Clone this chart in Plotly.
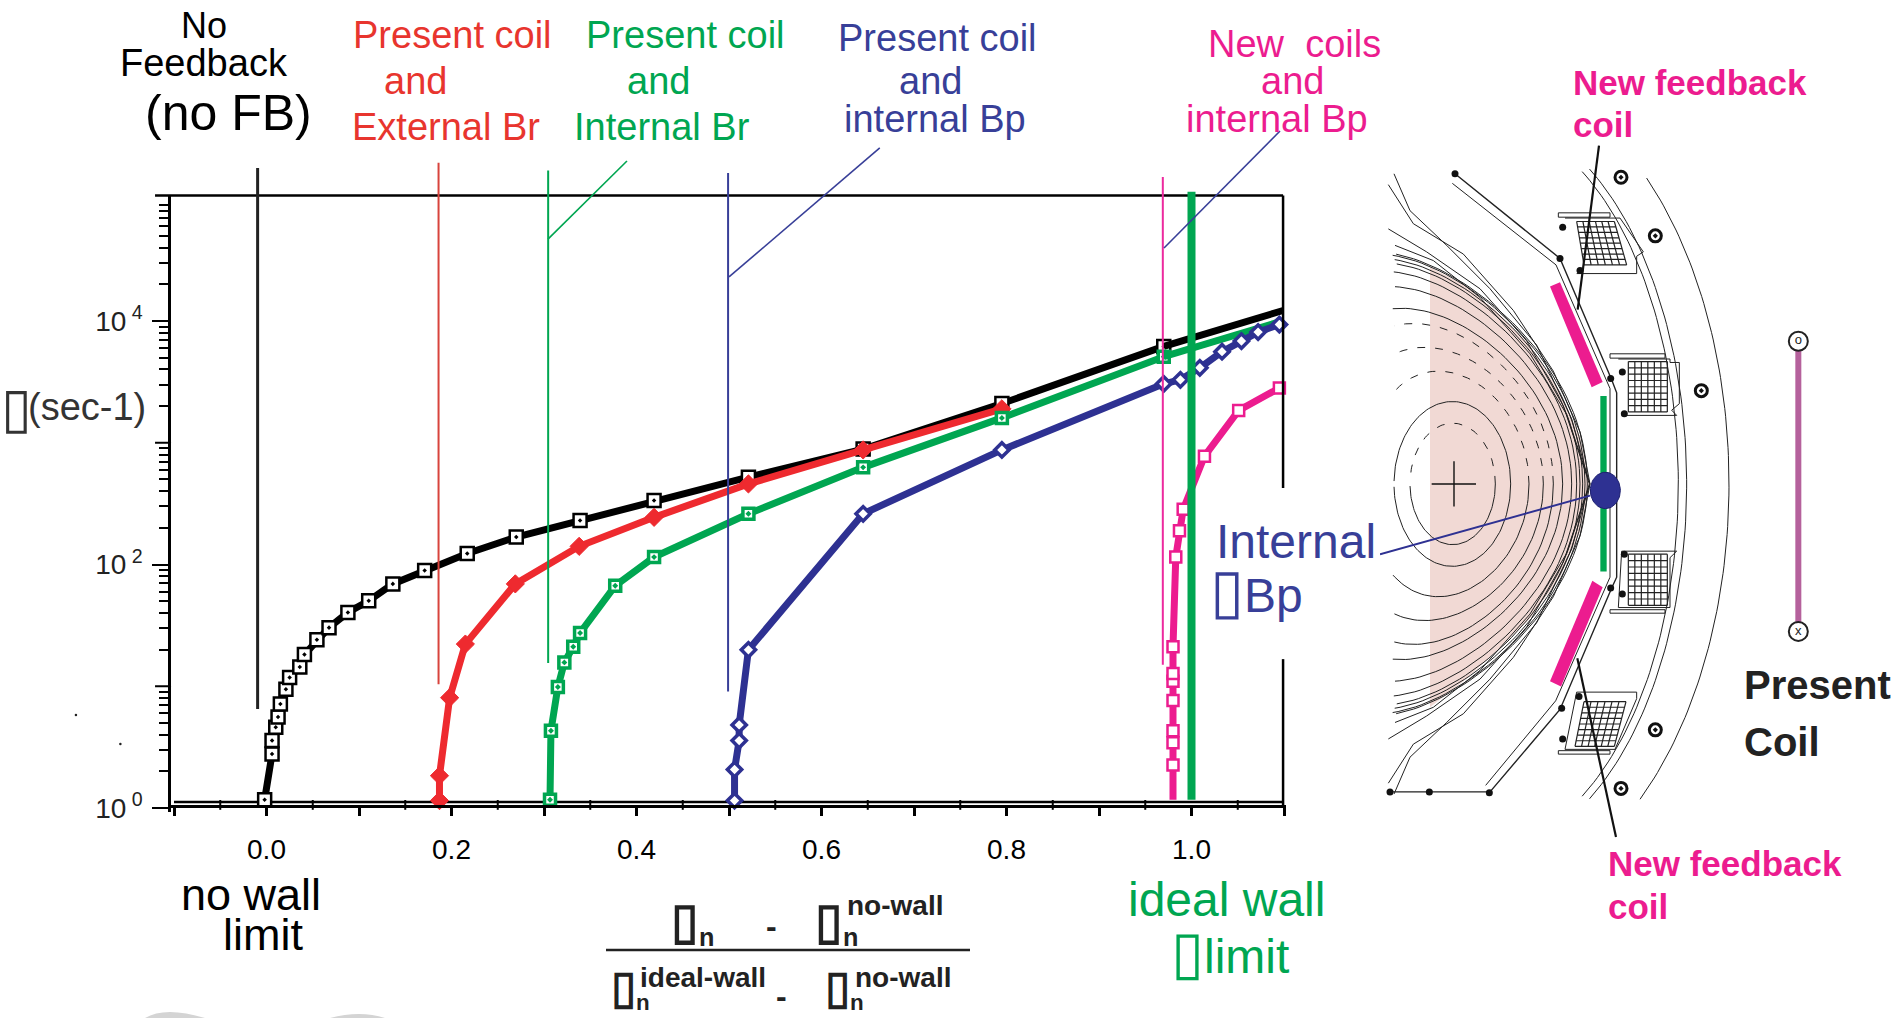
import numpy as np
import plotly.graph_objects as go

W, H = 1901, 1018

# ---------- data ----------
black_x = [-0.002, 0.006, 0.006, 0.010, 0.0125, 0.015, 0.021, 0.025, 0.036, 0.041, 0.0545, 0.0676, 0.088, 0.1105, 0.1366, 0.171, 0.217, 0.270, 0.339, 0.419, 0.521, 0.645, 0.795, 0.970, 1.099]
black_y = [1.17, 2.78, 3.58, 4.61, 5.60, 7.15, 9.45, 11.8, 14.4, 18.2, 24.1, 30.3, 40.4, 50.3, 69.3, 89.3, 123, 168, 230, 336, 521, 887, 2100, 6190, 12200]
red_x = [0.187, 0.187, 0.198, 0.215, 0.269, 0.338, 0.419, 0.521, 0.645, 0.795]
red_y = [1.15, 1.84, 8.05, 22.2, 69.3, 141, 244, 459, 873, 1900]
green_x = [0.3065, 0.3075, 0.315, 0.322, 0.3316, 0.339, 0.377, 0.419, 0.521, 0.645, 0.795, 0.970, 1.095]
green_y = [1.17, 4.31, 9.86, 15.7, 21.1, 27.4, 67, 115, 261, 628, 1600, 5090, 9850]
blue_x = [0.506, 0.506, 0.511, 0.511, 0.521, 0.645, 0.795, 0.970, 0.988, 1.009, 1.033, 1.054, 1.072, 1.095]
blue_y = [1.15, 2.07, 3.58, 4.81, 19.9, 261, 873, 3050, 3290, 4130, 5600, 6850, 8110, 9360]
pink_x = [0.980, 0.980, 0.980, 0.980, 0.980, 0.980, 0.980, 0.980, 0.983, 0.987, 0.991, 1.014, 1.051, 1.095]
pink_y = [1.17, 2.25, 3.43, 4.31, 7.65, 11.0, 12.7, 21.1, 115, 189, 284, 776, 1840, 2820]

# reference verticals: x, y-bottom, y-top
no_fb_line = (-0.0096, 6.5, 181000)
ext_br_line = (0.186, 10.4, 199000)
int_br_line = (0.3045, 15.5, 172000)
int_bp_line = (0.499, 9.06, 164000)
new_coil_line = (0.969, 15, 152000)
ideal_wall_line = (1.0, 1.17, 115000)
leader_green = ([0.3043, 0.3897], [47100, 206000])
leader_blue = ([0.5, 0.663], [23000, 264000])
leader_pink = ([0.9703, 1.0957], [39800, 364000])
specks_x = [-0.206, -0.158]
specks_y = [5.8, 3.36]

x_ticks = [0.0, 0.2, 0.4, 0.6, 0.8, 1.0]
x_labels = ["0.0", "0.2", "0.4", "0.6", "0.8", "1.0"]
x_unlabelled = [-0.1, 0.1, 0.3, 0.5, 0.7, 0.9, 1.1]
x_small = [-0.05, 0.05, 0.15, 0.25, 0.35, 0.45, 0.55, 0.65, 0.75, 0.85, 0.95, 1.05]
y_ticks = [1, 100, 10000]
y_labels = ["10<sup> 0</sup>", "10<sup> 2</sup>", "10<sup> 4</sup>"]
y_unlabelled = [10, 1000]
y_minor = [m * d for d in (1, 10, 100, 1000, 10000) for m in range(2, 10)]

# ---------- colours ----------
BLACK, RED, GREEN, NAVY, PINK = "#000000", "#ee2a2f", "#00a651", "#2e3192", "#ec1c8f"
NAVYTXT = "#383f98"
FONT = "Liberation Sans"


def px_x(p):
    return p / W


def px_y(p):
    return 1 - p / H


def box(size):
    return f"<span style='font-size:{size}px'>▯</span>"


fig = go.Figure()
O = dict(xa="x3", ya="y3")  # overlay axes with the same scale as the plot, lines may leave the frame


def line(x, y, color, width, xa="x", ya="y", dash=None, fill=None, fillcolor=None):
    fig.add_trace(go.Scatter(x=x, y=y, mode="lines", xaxis=xa, yaxis=ya, cliponaxis=False,
                             line=dict(color=color, width=width, dash=dash), fill=fill,
                             fillcolor=fillcolor, hoverinfo="skip", showlegend=False))


def series(x, y, color, symbol, size, lw, fillc="white", mstart=0):
    line(x, y, color, 7)
    fig.add_trace(go.Scatter(x=x[mstart:], y=y[mstart:], mode="markers", cliponaxis=False,
                             marker=dict(symbol=symbol, size=size, color=fillc,
                                         line=dict(color=color, width=lw)),
                             hoverinfo="skip", showlegend=False))


line([-0.1, 1.1], [1.12, 1.12], BLACK, 2.5)
fig.add_trace(go.Scatter(x=x_small, y=[1.06] * len(x_small), mode="markers", cliponaxis=False,
                         marker=dict(symbol="line-ns", size=7, line=dict(color=BLACK, width=2)),
                         hoverinfo="skip", showlegend=False))

series(black_x[:-1], black_y[:-1], BLACK, "square-dot", 13, 2.5)
line(black_x[-2:], black_y[-2:], BLACK, 7)
series(red_x, red_y, RED, "diamond", 14, 1, fillc=RED)
series(green_x[:-1], green_y[:-1], GREEN, "square-dot", 11, 3.5)
line(green_x[-2:], green_y[-2:], GREEN, 7)
series(blue_x, blue_y, NAVY, "diamond", 11, 3.5)
series(pink_x, pink_y, PINK, "square", 11, 2.5, mstart=1)

# frame pieces the axes cannot draw, marker lines and leaders
line([-0.1205, 1.099], [107400, 107400], BLACK, 2.5, **O)
line([1.099, 1.099, None, 1.099, 1.099], [107400, 425, None, 16.7, 1.02], BLACK, 2.5, **O)
for v in y_unlabelled:
    line([-0.1205, -0.1032], [v, v], BLACK, 2, **O)
for (xv, y0, y1), c, w in [(no_fb_line, "#222222", 3), (ext_br_line, "#d8433c", 2),
                           (int_br_line, GREEN, 2), (int_bp_line, NAVYTXT, 2),
                           (new_coil_line, "#ec2a9e", 2), (ideal_wall_line, GREEN, 8)]:
    line([xv, xv], [y0, y1], c, w, **O)
line(*leader_green, GREEN, 1.6, **O)
line(*leader_blue, NAVYTXT, 1.6, **O)
line(*leader_pink, NAVYTXT, 1.6, **O)
fig.add_trace(go.Scatter(x=specks_x, y=specks_y, mode="markers", xaxis="x3", yaxis="y3", cliponaxis=False,
                         marker=dict(size=2.5, color="#222222"), hoverinfo="skip", showlegend=False))

# ---------- machine cross-section (own axes, x2 / y2) ----------
S = dict(xa="x2", ya="y2")


def d_curve(R, a, b, delta, t0, t1, zc=770, n=90):
    t = np.radians(np.linspace(t0, t1, n))
    x = R + a * np.cos(t + delta * np.sin(t))
    y = zc - b * np.sin(t)
    x = np.where(x < 35, np.nan, x)
    return x, y


plasma_x = [150, 250, 350, 450, 540, 600, 628, 600, 540, 450, 350, 250, 150, 150]
plasma_y = [270, 310, 372, 450, 560, 660, 770, 880, 985, 1080, 1155, 1225, 1285, 270]
line(plasma_x, plasma_y, "#f1d9d4", 0, fill="toself", fillcolor="#f1d9d4", **S)

# R, a, b, triangularity, upper half dashed
surfaces = [(218, 128, 140, 0.0, True), (217, 175, 190, 0.0, False), (200, 247, 260, 0.1, True),
            (180, 310, 315, 0.15, True), (170, 350, 370, 0.2, True), (160, 388, 405, 0.25, False),
            (155, 420, 455, 0.3, False), (150, 440, 490, 0.32, False), (150, 450, 510, 0.33, False),
            (150, 458, 520, 0.34, False), (150, 465, 530, 0.35, False), (150, 472, 535, 0.36, False)]
for R, a, b, dl, dashed in surfaces:
    ux, uy = d_curve(R, a, b, dl, 0, 178)
    lx, ly = d_curve(R, a, b, dl, 0, -178)
    line(ux, uy, "#222222", 1, dash="8px,10px" if dashed else None, **S)
    line(lx, ly, "#222222", 1, **S)

sol_upper = [([25, 100, 250, 400, 520, 600, 630], [80, 170, 240, 370, 510, 650, 770]),
             ([42, 90, 200, 330, 470, 575, 625], [55, 140, 220, 320, 450, 620, 760]),
             ([25, 140, 300, 440, 550, 628], [182, 235, 320, 440, 590, 770]),
             ([45, 160, 300, 450, 560, 630], [220, 255, 340, 470, 610, 770])]
for xs, ys in sol_upper:
    line(xs, ys, "#222222", 1, **S)
    line(xs, [1540 - v for v in ys], "#222222", 1, **S)

wall_outer_x = [225, 540, 695, 710, 710, 695, 540, 330, 30]
wall_outer_y = [55, 250, 530, 560, 985, 1010, 1290, 1480, 1480]
wall_inner_x = [217, 528, 690, 690, 527, 317]
wall_inner_y = [77, 265, 550, 985, 1270, 1465]
line(wall_outer_x, wall_outer_y, "#222222", 1.4, **S)
line(wall_inner_x, wall_inner_y, "#222222", 1, **S)

vessel_arcs = [(300, 747, 949, -50, 48), (300, 620, 856, -58, 58), (300, 595, 840, -59, 59)]
for cx, a, b, t0, t1 in vessel_arcs:
    ax, ay = d_curve(cx, a, b, 0, t0, t1)
    line(ax, ay, "#222222", 1, **S)


def grid(corners, rows, cols):
    (x1, y1), (x2, y2), (x3, y3), (x4, y4) = corners
    xs, ys = [], []
    for i in range(rows + 1):
        f = i / rows
        xs += [x1 + (x4 - x1) * f, x2 + (x3 - x2) * f, None]
        ys += [y1 + (y4 - y1) * f, y2 + (y3 - y2) * f, None]
    for j in range(cols + 1):
        f = j / cols
        xs += [x1 + (x2 - x1) * f, x4 + (x3 - x4) * f, None]
        ys += [y1 + (y2 - y1) * f, y4 + (y3 - y4) * f, None]
    line(xs, ys, "#222222", 1.2, **S)


coils = [[(590, 165), (703, 165), (740, 265), (612, 265)], [(745, 488), (862, 488), (862, 604), (745, 604)],
         [(745, 932), (862, 932), (862, 1050), (745, 1050)], [(612, 1272), (738, 1272), (703, 1375), (585, 1375)]]
for c in coils:
    grid(c, 8, 6)

coil_frames = [([535, 690, 690, 535, 535], [145, 145, 155, 155, 145]),
               ([555, 720, 790, 770, 770, 590], [157, 157, 235, 245, 285, 285]),
               ([690, 855, 855, 690, 690], [470, 470, 480, 480, 470]),
               ([715, 870, 870, 898, 898, 875, 890, 725], [482, 482, 490, 490, 585, 600, 612, 612]),
               ([890, 725, 715, 870, 870, 890], [925, 925, 1055, 1055, 940, 925]),
               ([690, 855, 855, 690, 690], [1060, 1060, 1068, 1068, 1060]),
               ([590, 770, 770, 705, 555, 590], [1250, 1250, 1265, 1382, 1382, 1250]),
               ([535, 690, 690, 535, 535], [1385, 1385, 1393, 1393, 1385])]
for xs, ys in coil_frames:
    line(xs, ys, "#222222", 1, **S)

blob_x = [225, 540, 600, 692, 692, 545, 328, 148, 30, 597, 548, 727, 733, 733, 727, 548]
blob_y = [55, 250, 278, 527, 1010, 1287, 1482, 1480, 1480, 1260, 178, 512, 608, 932, 1024, 1358]
fig.add_trace(go.Scatter(x=blob_x, y=blob_y, mode="markers", xaxis="x2", yaxis="y2", cliponaxis=False,
                         marker=dict(size=7, color="#111111"), hoverinfo="skip", showlegend=False))
port_x = [723, 826, 964, 826, 723]
port_y = [63, 198, 555, 1337, 1472]
fig.add_trace(go.Scatter(x=port_x, y=port_y, mode="markers", xaxis="x2", yaxis="y2", cliponaxis=False,
                         marker=dict(symbol="circle-dot", size=12, color="white", line=dict(color="#111111", width=3)),
                         hoverinfo="skip", showlegend=False))

line([510, 540, 668, 635, 510], [315, 305, 535, 547, 315], PINK, 0, fill="toself", fillcolor=PINK, **S)
line([510, 637, 668, 543, 510], [1225, 993, 1008, 1237, 1225], PINK, 0, fill="toself", fillcolor=PINK, **S)
line([661, 680, 680, 661, 661], [567, 567, 972, 972, 567], GREEN, 0, fill="toself", fillcolor=GREEN, **S)
line([155, 288, None, 222, 222], [770, 770, None, 718, 822], "#111111", 1.4, **S)
line([0, 630], [932, 797], NAVY, 2, **S)
t_c = np.radians(np.arange(0, 361, 6))
line(676 + 45 * np.cos(t_c), 785 + 42 * np.sin(t_c), "#1d2070", 1, fill="toself", fillcolor=NAVY, **S)
line([657, 593], [-10, 368], "#111111", 2.2, **S)
line([592, 708], [1172, 1584], "#111111", 2.2, **S)

present_x = [1255, 1255]
present_y = [441, 1110]
line(present_x, present_y, "#b5619c", 6, **S)
fig.add_trace(go.Scatter(x=present_x, y=present_y, mode="markers+text", xaxis="x2", yaxis="y2",
                         text=["o", "x"], textposition="middle center",
                         textfont=dict(family=FONT, size=13, color="#222222"),
                         marker=dict(size=19, color="white", line=dict(color="#222222", width=2)),
                         hoverinfo="skip", showlegend=False))

# ---------- text ----------
texts = [
    ("No", 204, 25, 36, BLACK, "center", False),
    ("Feedback", 204, 63, 38, BLACK, "center", False),
    ("(no FB)", 228, 113, 50, BLACK, "center", False),
    ("Present coil", 452, 35, 38, "#e8352e", "center", False),
    ("and", 415, 81, 38, "#e8352e", "center", False),
    ("External Br", 446, 127, 38, "#e8352e", "center", False),
    ("Present coil", 685, 35, 38, GREEN, "center", False),
    ("and", 658, 81, 38, GREEN, "center", False),
    ("Internal Br", 662, 127, 38, GREEN, "center", False),
    ("Present coil", 937, 38, 38, NAVYTXT, "center", False),
    ("and", 930, 81, 38, NAVYTXT, "center", False),
    ("internal Bp", 935, 119, 38, NAVYTXT, "center", False),
    ("New  coils", 1294, 44, 38, PINK, "center", False),
    ("and", 1292, 81, 38, PINK, "center", False),
    ("internal Bp", 1277, 119, 38, PINK, "center", False),
    ("New feedback", 1571, 82, 35, PINK, "left", True),
    ("coil", 1571, 125, 35, PINK, "left", True),
    ("New feedback", 1606, 863, 35, PINK, "left", True),
    ("coil", 1606, 906, 35, PINK, "left", True),
    ("Present", 1742, 685, 40, "#222222", "left", True),
    ("Coil", 1742, 742, 40, "#222222", "left", True),
    ("Internal", 1214, 541, 48, NAVYTXT, "left", False),
    (box(62) + "Bp", 1208, 590, 48, NAVYTXT, "left", False),
    (box(56), 16, 407, 38, "#333333", "center", False),
    ("(sec-1)", 26, 407, 38, "#333333", "left", False),
    ("no wall", 251, 894, 45, BLACK, "center", False),
    ("limit", 263, 934, 45, BLACK, "center", False),
    ("ideal wall", 1226, 899, 48, GREEN, "center", False),
    (box(60) + "limit", 1230, 952, 48, GREEN, "center", False),
    (box(50) + "<sub>n</sub>", 692, 922, 36, "#222222", "center", True),
    ("-", 771, 926, 32, "#222222", "center", True),
    (box(50) + "<sub>n</sub>", 836, 922, 36, "#222222", "center", True),
    ("no-wall", 895, 905, 28, "#222222", "center", True),
    (box(46) + "<sub>n</sub>", 630, 988, 32, "#222222", "center", True),
    ("ideal-wall", 703, 977, 28, "#222222", "center", True),
    ("-", 781, 996, 32, "#222222", "center", True),
    (box(46) + "<sub>n</sub>", 844, 988, 32, "#222222", "center", True),
    ("no-wall", 903, 977, 28, "#222222", "center", True),
]
annotations = []
for s, px, py, size, color, anchor, bold in texts:
    annotations.append(dict(text=f"<b>{s}</b>" if bold else s, x=px_x(px), y=px_y(py), xref="paper", yref="paper",
                            xanchor=anchor, yanchor="middle", showarrow=False,
                            font=dict(family=FONT, size=size, color=color)))

shapes = [dict(type="line", xref="paper", yref="paper", x0=px_x(606), x1=px_x(970), y0=px_y(950), y1=px_y(950),
               line=dict(color="#222222", width=2.5)),
          dict(type="path", xref="paper", yref="paper", fillcolor="#d4d4d4", line=dict(width=0),
               path=f"M {px_x(145)} {px_y(1018)} Q {px_x(165)} {px_y(1006)} {px_x(205)} {px_y(1018)} Z"),
          dict(type="path", xref="paper", yref="paper", fillcolor="#d4d4d4", line=dict(width=0),
               path=f"M {px_x(330)} {px_y(1018)} Q {px_x(360)} {px_y(1010)} {px_x(385)} {px_y(1018)} Z")]

fig.update_layout(
    width=W, height=H, margin=dict(l=0, r=0, t=0, b=0, autoexpand=False), autosize=False,
    paper_bgcolor="white", plot_bgcolor="rgba(0,0,0,0)", showlegend=False,
    annotations=annotations, shapes=shapes,
    font=dict(family=FONT, color=BLACK),
    xaxis=dict(domain=[px_x(171), px_x(1286)], range=[-0.10324, 1.10216], anchor="free", automargin=False,
               position=px_y(806), showgrid=False, zeroline=False, showline=True, linecolor=BLACK, linewidth=2.5,
               tickmode="array", tickvals=x_ticks, ticktext=x_labels, ticks="outside", ticklen=8, tickwidth=2.5,
               tickcolor=BLACK, tickfont=dict(family=FONT, size=28, color=BLACK), ticklabelstandoff=10,
               minor=dict(tickmode="array", tickvals=x_unlabelled, ticks="outside", ticklen=8, tickwidth=2.5, tickcolor=BLACK)),
    yaxis=dict(domain=[px_y(812), px_y(195.5)], type="log", range=[-0.033, 5.031], anchor="x", automargin=False,
               showgrid=False, zeroline=False, showline=True, linecolor=BLACK, linewidth=2.5,
               tickmode="array", tickvals=y_ticks, ticktext=y_labels, ticks="outside", ticklen=16, tickwidth=2,
               tickcolor=BLACK, tickfont=dict(family=FONT, size=28, color="#222222"), ticklabelstandoff=4,
               minor=dict(tickmode="array", tickvals=y_minor, ticks="outside", ticklen=9, tickwidth=2, tickcolor=BLACK)),
    xaxis2=dict(domain=[px_x(1380), 1], range=[0, 1563], anchor="y2", visible=False, fixedrange=True, automargin=False),
    yaxis2=dict(domain=[px_y(850), px_y(130)], range=[1614, -46], anchor="x2", visible=False, fixedrange=True, automargin=False),
    xaxis3=dict(domain=[0, 1], range=[-0.28811, 1.76703], anchor="y3", visible=False, fixedrange=True, automargin=False),
    yaxis3=dict(domain=[0, 1], type="log", range=[-1.72485, 6.63655], anchor="x3", visible=False, fixedrange=True, automargin=False),
)

fig.write_html("out.html", config={"displayModeBar": False},
               post_script="var s=document.documentElement.style;s.margin='0';s.overflow='hidden';"
                           "var b=document.body.style;b.margin='0';b.overflow='hidden';")
